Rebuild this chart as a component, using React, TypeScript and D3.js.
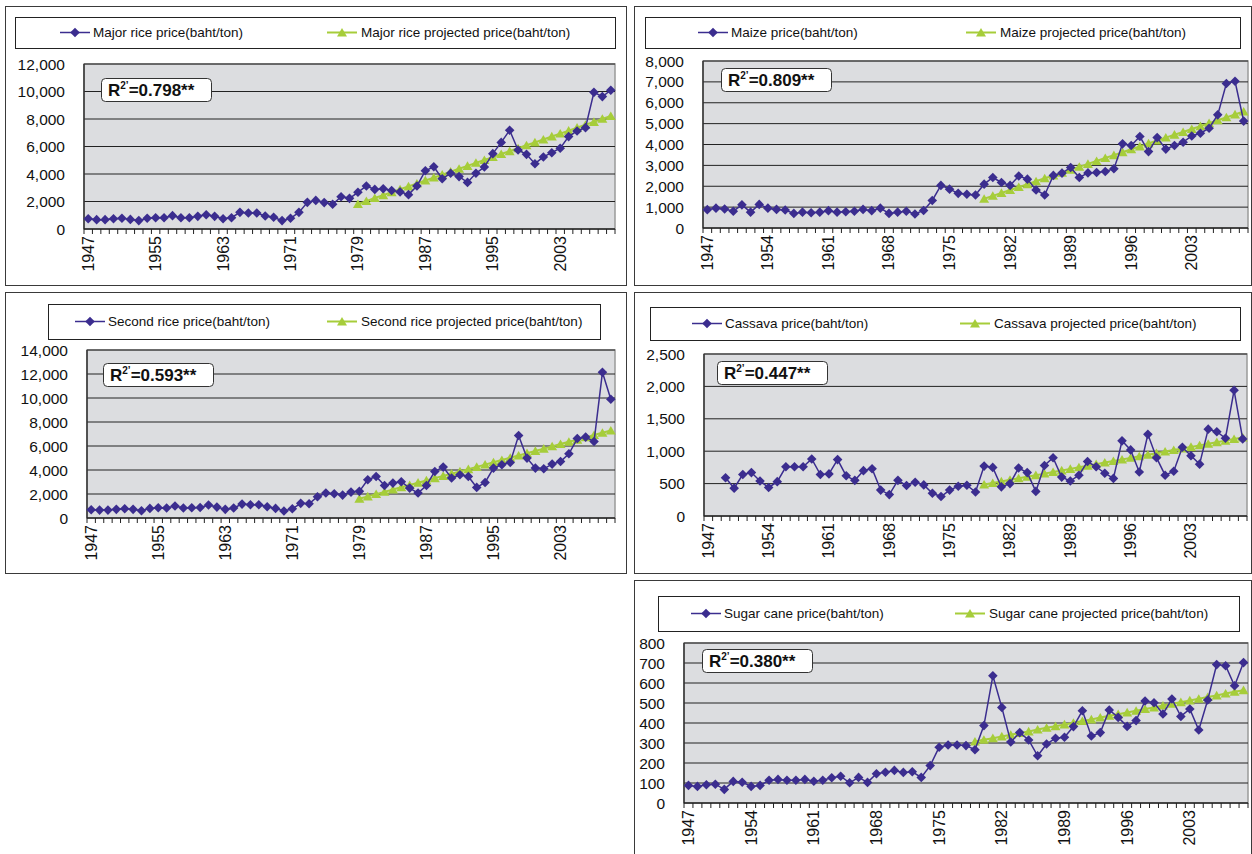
import React from 'react';
import * as d3 from 'd3';

// Category axis: crop years
const years: number[] = d3.range(1947, 2010);
const projectedYears: number[] = d3.range(1979, 2010);

// Farm-gate prices, baht per ton
const majorRicePrice = [
  750, 680, 680, 750, 780, 700, 610, 780, 820, 820, 970, 820, 820, 920, 1040, 920,
  750, 820, 1210, 1160, 1160, 950, 850, 610, 780, 1210, 1940, 2080, 1920, 1800, 2350,
  2230, 2670, 3130, 2880, 2930, 2800, 2700, 2500, 3130, 4240, 4530, 3660, 4050, 3810,
  3390, 4050, 4510, 5480, 6300, 7180, 5750, 5430, 4750, 5240, 5550, 5870, 6720, 7130,
  7370, 9940, 9630, 10090,
];
const majorRiceProjected = [
  1820, 2030, 2250, 2460, 2670, 2890, 3100, 3310, 3530, 3740, 3950, 4170, 4380, 4590,
  4810, 5020, 5230, 5450, 5660, 5870, 6090, 6300, 6510, 6730, 6940, 7150, 7370, 7580,
  7790, 8010, 8220,
];

const maizePrice = [
  880, 950, 910, 800, 1110, 760, 1130, 950, 890, 860, 700, 760, 730, 760, 830, 760,
  780, 800, 890, 830, 950, 700, 760, 800, 670, 840, 1320, 2040, 1860, 1660,
  1620, 1580, 2100, 2420, 2180, 2040, 2490, 2340, 1820, 1580, 2520, 2630, 2900, 2420,
  2640, 2660, 2710, 2840, 4030, 3950, 4380, 3660, 4330, 3780, 3950, 4110, 4410, 4540,
  4780, 5420, 6920, 7030, 5120,
];
const maizeProjected = [
  1400, 1540, 1680, 1820, 1960, 2100, 2240, 2380, 2510, 2650, 2790, 2930, 3070, 3210,
  3350, 3490, 3630, 3770, 3910, 4050, 4190, 4330, 4470, 4600, 4740, 4880, 5020, 5160,
  5300, 5440, 5580,
];

const secondRicePrice = [
  690, 660, 660, 720, 770, 720, 610, 800, 860, 830, 1000, 830, 860, 880, 1080, 910,
  720, 830, 1160, 1110, 1110, 940, 800, 580, 770, 1220, 1190, 1770, 2080,
  2020, 1910, 2160, 2220, 3190, 3460, 2710, 2910, 3020, 2490, 2080, 2710, 3880, 4240,
  3330, 3600, 3460, 2550, 2960, 4160, 4440, 4630, 6870, 4990, 4160, 4100, 4490, 4710,
  5350, 6620, 6740, 6370, 12140, 9900,
];
const secondRiceProjected = [
  1610, 1800, 1990, 2180, 2370, 2560, 2750, 2940, 3130, 3320, 3510, 3690, 3880, 4070,
  4260, 4450, 4640, 4830, 5020, 5210, 5400, 5590, 5780, 5970, 6160, 6350, 6530, 6720,
  6910, 7100, 7290,
];

const cassavaPrice: (number | null)[] = [
  null, null, 590, 430, 640, 670, 540, 440, 530, 760, 760, 760, 880, 640, 650, 870,
  620, 550, 700, 730, 400, 330, 550, 470, 520, 480, 350, 300, 400, 460, 475,
  370, 770, 750, 450, 500, 740, 670, 380, 780, 900, 600, 540, 630, 840, 760, 660,
  580, 1160, 1020, 680, 1260, 900, 630, 690, 1060, 930, 800, 1340, 1300, 1200, 1940,
  1190,
];
const cassavaProjected = [
  485, 509, 533, 558, 582, 606, 630, 654, 679, 703, 727, 751, 776, 800, 824, 848, 872,
  897, 921, 945, 969, 994, 1018, 1042, 1066, 1090, 1115, 1139, 1163, 1187, 1212,
];

const sugarCanePrice = [
  88, 83, 91, 94, 68, 108, 104, 83, 88, 114, 118, 114, 114, 118, 109, 114, 126, 134,
  101, 128, 103, 146, 154, 163, 153, 156, 128, 187, 279, 290, 290,
  287, 266, 387, 636, 478, 305, 352, 315, 236, 295, 324, 329, 382, 461, 335, 352, 465,
  428, 383, 412, 510, 501, 445, 520, 433, 470, 365, 515, 692, 686, 586, 702,
];
const sugarCaneProjected = [
  307, 316, 324, 333, 341, 350, 358, 367, 376, 384, 393, 401, 410, 418, 427, 436, 444,
  453, 461, 470, 478, 487, 496, 504, 513, 521, 530, 538, 547, 556, 564,
];

const BLUE = '#3b2d8f';
const GREEN = '#a6cd3a';
const PLOT_BG = '#dcdde0';
const AXIS_FONT = 'Arial, "Liberation Sans", sans-serif';
const LEGEND_FONT = '"Liberation Sans", Arial, sans-serif';

type Rect = { x: number; y: number; w: number; h: number };
type PanelCfg = {
  name: string;
  actual: (number | null)[];
  projected: number[];
  r2: string;
  yMax: number;
  yStep: number;
  labelEvery: number;
  comma: boolean;
  box: Rect;
  legend: Rect & { item1: number; item2: number };
  plot: Rect;
  r2Pos: { x: number; y: number };
};

const panels: PanelCfg[] = [
  {
    name: 'Major rice', actual: majorRicePrice, projected: majorRiceProjected, r2: '0.798',
    yMax: 12000, yStep: 2000, labelEvery: 8, comma: true,
    box: { x: 5, y: 6, w: 621, h: 279 },
    legend: { x: 15, y: 17, w: 600, h: 31, item1: 75, item2: 342 },
    plot: { x: 84, y: 64, w: 531, h: 165 },
    r2Pos: { x: 101, y: 78 },
  },
  {
    name: 'Maize', actual: maizePrice, projected: maizeProjected, r2: '0.809',
    yMax: 8000, yStep: 1000, labelEvery: 7, comma: true,
    box: { x: 634, y: 6, w: 617, h: 279 },
    legend: { x: 645, y: 17, w: 595, h: 31, item1: 713, item2: 981 },
    plot: { x: 703, y: 61, w: 545, h: 167 },
    r2Pos: { x: 721, y: 68 },
  },
  {
    name: 'Second rice', actual: secondRicePrice, projected: secondRiceProjected, r2: '0.593',
    yMax: 14000, yStep: 2000, labelEvery: 8, comma: true,
    box: { x: 5, y: 292, w: 621, h: 281 },
    legend: { x: 48, y: 304, w: 552, h: 35, item1: 90, item2: 342 },
    plot: { x: 87, y: 350, w: 528, h: 168 },
    r2Pos: { x: 103, y: 363 },
  },
  {
    name: 'Cassava', actual: cassavaPrice, projected: cassavaProjected, r2: '0.447',
    yMax: 2500, yStep: 500, labelEvery: 7, comma: true,
    box: { x: 634, y: 292, w: 617, h: 281 },
    legend: { x: 650, y: 307, w: 590, h: 33, item1: 707, item2: 975 },
    plot: { x: 704, y: 354, w: 543, h: 162 },
    r2Pos: { x: 717, y: 361 },
  },
  {
    name: 'Sugar cane', actual: sugarCanePrice, projected: sugarCaneProjected, r2: '0.380',
    yMax: 800, yStep: 100, labelEvery: 7, comma: false,
    box: { x: 634, y: 580, w: 617, h: 290 },
    legend: { x: 658, y: 596, w: 581, h: 35, item1: 706, item2: 970 },
    plot: { x: 684, y: 643, w: 564, h: 160 },
    r2Pos: { x: 702, y: 649 },
  },
];

const diamondPath = 'M0,-4.8L4.8,0L0,4.8L-4.8,0Z';
const trianglePath = 'M0,-4.6L5,4L-5,4Z';

function Panel({ cfg }: { cfg: PanelCfg }) {
  const { plot, legend, box } = cfg;
  const x = d3.scaleBand<number>().domain(years).range([plot.x, plot.x + plot.w]);
  const cx = (yr: number) => (x(yr) as number) + x.bandwidth() / 2;
  const y = d3.scaleLinear().domain([0, cfg.yMax]).range([plot.y + plot.h, plot.y]);
  const ticks = d3.range(0, cfg.yMax + 1, cfg.yStep);
  const fmt = cfg.comma ? d3.format(',') : d3.format('d');
  const bottom = plot.y + plot.h;

  type Pt = { yr: number; v: number };
  const actualPts: Pt[] = years
    .map((yr, i) => ({ yr, v: cfg.actual[i] as number }))
    .filter((d) => d.v != null);
  const projPts: Pt[] = projectedYears.map((yr, i) => ({ yr, v: cfg.projected[i] }));
  const line = d3.line<Pt>().x((d) => cx(d.yr)).y((d) => y(d.v));

  const legendMid = legend.y + legend.h / 2;
  const boundaries = years.map((yr) => x(yr) as number).concat([plot.x + plot.w]);

  return (
    <g>
      <rect x={box.x + 0.5} y={box.y + 0.5} width={box.w} height={box.h} fill="#fff" stroke="#3a3a3a" strokeWidth={1} />
      {/* legend */}
      <rect x={legend.x + 0.5} y={legend.y + 0.5} width={legend.w} height={legend.h} fill="#fff" stroke="#222" strokeWidth={1} />
      <g>
        <line x1={legend.item1 - 15} x2={legend.item1 + 15} y1={legendMid} y2={legendMid} stroke={BLUE} strokeWidth={1.5} />
        <path d={diamondPath} transform={`translate(${legend.item1},${legendMid})`} fill={BLUE} />
        <text x={legend.item1 + 18} y={legendMid} dominantBaseline="central" fontFamily={LEGEND_FONT} fontSize={13.5} fill="#111">
          {`${cfg.name} price(baht/ton)`}
        </text>
        <line x1={legend.item2 - 15} x2={legend.item2 + 15} y1={legendMid} y2={legendMid} stroke={GREEN} strokeWidth={2} />
        <path d={trianglePath} transform={`translate(${legend.item2},${legendMid})`} fill={GREEN} />
        <text x={legend.item2 + 19} y={legendMid} dominantBaseline="central" fontFamily={LEGEND_FONT} fontSize={13.5} fill="#111">
          {`${cfg.name} projected price(baht/ton)`}
        </text>
      </g>
      {/* plot area */}
      <rect x={plot.x} y={plot.y} width={plot.w} height={plot.h} fill={PLOT_BG} stroke="#9a9a9a" strokeWidth={1.5} />
      {ticks.slice(1).map((t) => (
        <line key={t} x1={plot.x} x2={plot.x + plot.w} y1={y(t)} y2={y(t)} stroke="#222" strokeWidth={1} />
      ))}
      <line x1={plot.x} x2={plot.x} y1={plot.y} y2={bottom} stroke="#333" strokeWidth={1.5} />
      <line x1={plot.x} x2={plot.x + plot.w} y1={bottom} y2={bottom} stroke="#222" strokeWidth={1.5} />
      {boundaries.map((bx, i) => (
        <line key={i} x1={bx} x2={bx} y1={bottom} y2={bottom + 5} stroke="#222" strokeWidth={1} />
      ))}
      {ticks.map((t) => (
        <text key={t} x={plot.x - 19} y={y(t)} textAnchor="end" dominantBaseline="central" fontFamily={AXIS_FONT} fontSize={15.5} fill="#111">
          {fmt(t)}
        </text>
      ))}
      {years.filter((_, i) => i % cfg.labelEvery === 0).map((yr) => (
        <text key={yr} transform={`translate(${cx(yr)},${bottom + 7}) rotate(-90)`} textAnchor="end" dominantBaseline="central" fontFamily={AXIS_FONT} fontSize={16} fill="#111">
          {yr}
        </text>
      ))}
      {/* series */}
      <path d={line(projPts) || ''} fill="none" stroke={GREEN} strokeWidth={2} />
      {projPts.map((d) => (
        <path key={d.yr} d={trianglePath} transform={`translate(${cx(d.yr)},${y(d.v)})`} fill={GREEN} />
      ))}
      <path d={line(actualPts) || ''} fill="none" stroke={BLUE} strokeWidth={1.5} />
      {actualPts.map((d) => (
        <path key={d.yr} d={diamondPath} transform={`translate(${cx(d.yr)},${y(d.v)})`} fill={BLUE} />
      ))}
      {/* R-squared label */}
      <rect x={cfg.r2Pos.x + 0.5} y={cfg.r2Pos.y + 0.5} width={110} height={23} rx={4} fill="#fff" stroke="#333" strokeWidth={1} />
      <text x={cfg.r2Pos.x + 7} y={cfg.r2Pos.y + 18} fontFamily={AXIS_FONT} fontWeight="bold" fontSize={17} fill="#111">
        <tspan>R</tspan>
        <tspan fontSize={10} dy={-7}>2’</tspan>
        <tspan dy={7}>{`=${cfg.r2}**`}</tspan>
      </text>
    </g>
  );
}

export default function App() {
  return (
    <svg width={1252} height={854} style={{ position: 'absolute', left: 0, top: 0, background: '#fff' }}>
      {panels.map((p) => (
        <Panel key={p.name} cfg={p} />
      ))}
    </svg>
  );
}
